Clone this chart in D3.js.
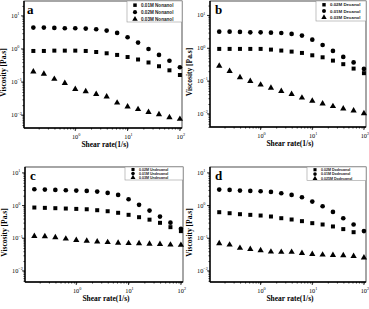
<!DOCTYPE html>
<html>
<head>
<meta charset="utf-8">
<script src="https://cdn.jsdelivr.net/npm/d3@7"></script>
<style>
  body { margin: 0; background: white; }
  .ttl { font-family: "Liberation Serif", serif; font-weight: bold; }
  .tick { font-family: "Liberation Serif", serif; }
  .leg { font-family: "Liberation Sans", sans-serif; font-weight: bold; }
</style>
</head>
<body>
<div id="chart"></div>
<script>
// shear rate points (1/s), 5 per decade
var shear = [0.158, 0.251, 0.398, 0.631, 1, 1.585, 2.512, 3.981, 6.31, 10, 15.85, 25.12, 39.81, 63.1, 100];

var xTicks = [1, 10, 100];
var yTicks = [0.01, 0.1, 1, 10];

// panel a - nonanol
var nonanolNames = ["0.01M Nonanol", "0.02M Nonanol", "0.03M Nonanol"];
var nonanol001 = [0.87, 0.87, 0.89, 0.89, 0.89, 0.87, 0.81, 0.74, 0.66, 0.57, 0.48, 0.39, 0.30, 0.226, 0.163];
var nonanol002 = [4.43, 4.43, 4.33, 4.23, 4.23, 4.13, 3.94, 3.6, 3.05, 2.26, 1.56, 1.0, 0.66, 0.44, 0.28];
var nonanol003 = [0.206, 0.175, 0.123, 0.093, 0.061, 0.052, 0.043, 0.036, 0.0236, 0.018, 0.015, 0.0123, 0.0105, 0.0085, 0.0076];

// panel b - decanol
var decanolNames = ["0.02M Decanol", "0.01M Decanol", "0.03M Decanol"];
var decanol002 = [0.955, 0.955, 0.955, 0.955, 0.955, 0.91, 0.85, 0.79, 0.72, 0.61, 0.53, 0.42, 0.327, 0.24, 0.174];
var decanol001 = [3.21, 3.21, 3.14, 3.06, 3.06, 2.99, 2.92, 2.73, 2.43, 1.83, 1.26, 0.83, 0.545, 0.37, 0.235];
var decanol003 = [0.29, 0.2, 0.129, 0.099, 0.077, 0.062, 0.049, 0.04, 0.031, 0.025, 0.0204, 0.017, 0.0144, 0.0125, 0.0104];

// panel c - undecanol
var undecanolNames = ["0.02M Undecanol", "0.01M Undecanol", "0.03M Undecanol"];
var undecanol002 = [0.87, 0.85, 0.83, 0.81, 0.79, 0.77, 0.72, 0.67, 0.60, 0.52, 0.44, 0.37, 0.296, 0.218, 0.165];
var undecanol001 = [3.15, 3.08, 3.01, 2.94, 2.87, 2.8, 2.67, 2.44, 2.12, 1.56, 1.05, 0.70, 0.46, 0.30, 0.194];
var undecanol003 = [0.116, 0.113, 0.106, 0.096, 0.0875, 0.083, 0.079, 0.075, 0.072, 0.070, 0.069, 0.067, 0.066, 0.063, 0.062];

// panel d - dodecanol
var dodecanolNames = ["0.02M Dodecanol", "0.01M Dodecanol", "0.025M Dodecanol"];
var dodecanol002 = [0.626, 0.583, 0.544, 0.519, 0.495, 0.462, 0.41, 0.374, 0.333, 0.289, 0.263, 0.229, 0.19, 0.153, null];
var dodecanol001 = [3.08, 3.01, 2.87, 2.8, 2.74, 2.61, 2.38, 2.12, 1.80, 1.32, 0.95, 0.64, 0.41, 0.263, 0.165];
var dodecanol0025 = [0.069, 0.063, 0.050, 0.0465, 0.0424, 0.0385, 0.0377, 0.0377, 0.0351, 0.0327, 0.0312, 0.0305, 0.0298, 0.0284, 0.0253];

var panels = [
  { letter: "a", names: nonanolNames, series: [nonanol001, nonanol002, nonanol003],
    l: 24, r: 182, t: 1, b: 128, y0: -2.39, y1: 1.45, lx: 27, leg: { x: 127, y: 1, w: 55, h: 21, dy: 7, fs: 4.6 } },
  { letter: "b", names: decanolNames, series: [decanol002, decanol001, decanol003],
    l: 210, r: 366, t: 1, b: 127, y0: -2.4, y1: 1.44, lx: 215, leg: { x: 316, y: 1, w: 50, h: 20, dy: 6.3, fs: 4.4 } },
  { letter: "c", names: undecanolNames, series: [undecanol002, undecanol001, undecanol003],
    l: 25, r: 183, t: 167, b: 282, y0: -2.34, y1: 1.18, lx: 30, leg: { x: 125, y: 167, w: 58, h: 13, dy: 4, fs: 3.6 } },
  { letter: "d", names: dodecanolNames, series: [dodecanol002, dodecanol001, dodecanol0025],
    l: 210, r: 366, t: 167, b: 282, y0: -2.34, y1: 1.18, lx: 215, leg: { x: 307, y: 167, w: 59, h: 13.5, dy: 4.4, fs: 3.6 } }
];

var svg = d3.select("#chart").append("svg")
  .attr("width", 369)
  .attr("height", 309)
  .style("background", "white");

var shapes = [d3.symbolSquare, d3.symbolCircle, d3.symbolTriangle];
var sizes = [16, 17, 17];

function sup(sel, e) {
  sel.append("tspan").text("10");
  sel.append("tspan").attr("font-size", 4.2).attr("dy", -2.6).text(e);
}

panels.forEach(function(p) {
  var x = d3.scaleLog().domain([Math.pow(10, -0.98), Math.pow(10, 2.04)]).range([p.l, p.r]);
  var y = d3.scaleLog().domain([Math.pow(10, p.y0), Math.pow(10, p.y1)]).range([p.b, p.t]);
  var g = svg.append("g");

  // frame
  g.append("rect")
    .attr("x", p.l).attr("y", p.t)
    .attr("width", p.r - p.l).attr("height", p.b - p.t)
    .attr("fill", "none").attr("stroke", "#222").attr("stroke-width", 0.8);

  // x ticks
  var xg = g.append("g").attr("transform", "translate(0," + p.b + ")");
  xg.call(d3.axisBottom(x).tickValues(x.ticks().filter(function(d) { return d > x.domain()[0] && d < x.domain()[1]; }))
    .tickSize(1.5).tickFormat(""));
  xg.select(".domain").remove();
  xg.selectAll("line").attr("stroke-width", 0.8);
  xg.selectAll(".major").data(xTicks).enter().append("line")
    .attr("x1", function(d) { return x(d); }).attr("x2", function(d) { return x(d); })
    .attr("y1", 0).attr("y2", 3).attr("stroke", "black").attr("stroke-width", 0.8);
  xTicks.forEach(function(d, i) {
    var t = g.append("text").attr("class", "tick")
      .attr("x", x(d) - 3.3).attr("y", p.b + 11).attr("font-size", 6.3);
    sup(t, String(i));
  });

  // y ticks
  var yg = g.append("g").attr("transform", "translate(" + p.l + ",0)");
  yg.call(d3.axisLeft(y).tickValues(y.ticks().filter(function(d) { return d > y.domain()[0] && d < y.domain()[1]; }))
    .tickSize(1.5).tickFormat(""));
  yg.select(".domain").remove();
  yg.selectAll("line").attr("stroke-width", 0.8);
  yTicks.forEach(function(d, i) {
    g.append("line").attr("x1", p.l - 3).attr("x2", p.l)
      .attr("y1", y(d)).attr("y2", y(d)).attr("stroke", "black").attr("stroke-width", 0.8);
    var t = g.append("text").attr("class", "tick")
      .attr("x", p.l - 13).attr("y", y(d) + 2).attr("font-size", 6.3);
    sup(t, String(i - 2).replace("-", "\u2212"));
  });

  // thick left / bottom axis lines
  g.append("line").attr("x1", p.l).attr("x2", p.r).attr("y1", p.b).attr("y2", p.b)
    .attr("stroke", "black").attr("stroke-width", 1.4);
  g.append("line").attr("x1", p.l).attr("x2", p.l).attr("y1", p.t).attr("y2", p.b)
    .attr("stroke", "black").attr("stroke-width", 1.4);

  // points
  p.series.forEach(function(s, k) {
    g.selectAll(".pt" + k).data(s.map(function(v, i) { return [shear[i], v]; }).filter(function(d) { return d[1] != null; }))
      .enter().append("path")
      .attr("d", d3.symbol().type(shapes[k]).size(sizes[k]))
      .attr("transform", function(d) { return "translate(" + x(d[0]) + "," + y(d[1]) + ")"; })
      .attr("fill", "black");
  });

  // legend
  var L = p.leg;
  g.append("rect").attr("x", L.x).attr("y", L.y).attr("width", L.w).attr("height", L.h)
    .attr("fill", "white").attr("stroke", "#999").attr("stroke-width", 0.6);
  p.names.forEach(function(n, k) {
    var cy = L.y + L.dy * (k + 0.55) + 0.3;
    g.append("path")
      .attr("d", d3.symbol().type(shapes[k]).size(sizes[k] * L.fs / 6))
      .attr("transform", "translate(" + (L.x + 8) + "," + cy + ")")
      .attr("fill", "black");
    g.append("text").attr("class", "leg")
      .attr("x", L.x + 14).attr("y", cy + L.fs * 0.35)
      .attr("font-size", L.fs).attr("fill", "#222").text(n);
  });

  // panel letter
  g.append("text").attr("class", "ttl")
    .attr("x", p.lx).attr("y", p.t + 13)
    .attr("font-size", 13).text(p.letter);

  // axis titles
  g.append("text").attr("class", "ttl")
    .attr("x", (p.l + p.r) / 2 + 2).attr("y", p.b + 19)
    .attr("text-anchor", "middle").attr("font-size", 7.5).text("Shear rate(1/s)");
  g.append("text").attr("class", "ttl")
    .attr("transform", "translate(" + (p.l - 18.5) + "," + ((p.t + p.b) / 2 + 8) + ") rotate(-90)")
    .attr("text-anchor", "middle").attr("font-size", 7.5).text("Viscosity [Pa.s]");
});
</script>
</body>
</html>
